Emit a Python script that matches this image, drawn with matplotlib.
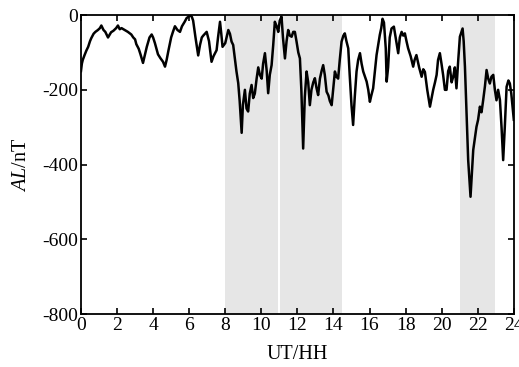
import matplotlib
matplotlib.use("Agg")
from matplotlib import pyplot as plt

plt.rcParams['font.family'] = ['Liberation Serif', 'DejaVu Serif']
plt.rcParams['mathtext.fontset'] = 'custom'
plt.rcParams['mathtext.it'] = 'Liberation Serif:italic'
plt.rcParams['mathtext.rm'] = 'Liberation Serif'
plt.rcParams['axes.unicode_minus'] = False

# AL index over one day (UT hours, nT)
ut = [0.0, 0.05, 0.1, 0.2, 0.3, 0.4, 0.5, 0.57, 0.7, 0.8, 0.94, 1.05, 1.13, 1.25, 1.35,
      1.5, 1.6, 1.67, 1.8, 1.95, 2.05, 2.15, 2.25, 2.42, 2.6, 2.79, 2.9, 3.0, 3.07, 3.2,
      3.3, 3.44, 3.55, 3.65, 3.8, 3.92, 4.0, 4.1, 4.27, 4.4, 4.55, 4.66, 4.75, 4.85, 5.0,
      5.1, 5.21, 5.35, 5.49, 5.6, 5.75, 5.86, 5.95, 6.04, 6.15, 6.22, 6.35, 6.5, 6.6, 6.7,
      6.78, 6.97, 7.1, 7.24, 7.35, 7.52, 7.6, 7.71, 7.78, 7.85, 8.0, 8.17, 8.26, 8.35, 8.44,
      8.54, 8.62, 8.72, 8.8, 8.91, 8.98, 9.09, 9.18, 9.27, 9.36, 9.46, 9.55, 9.64, 9.74, 9.83,
      9.92, 10.02, 10.1, 10.2, 10.3, 10.38, 10.47, 10.57, 10.66, 10.75, 10.85, 10.94, 11.02,
      11.12, 11.2, 11.31, 11.4, 11.49, 11.58, 11.68, 11.77, 11.86, 11.95, 12.05, 12.14, 12.22,
      12.32, 12.41, 12.51, 12.6, 12.69, 12.78, 12.88, 12.97, 13.06, 13.15, 13.25, 13.34, 13.43,
      13.52, 13.62, 13.72, 13.8, 13.9, 14.0, 14.08, 14.17, 14.26, 14.35, 14.45, 14.55, 14.63,
      14.72, 14.82, 14.9, 15.0, 15.09, 15.18, 15.28, 15.37, 15.47, 15.56, 15.65, 15.75, 15.84,
      15.93, 16.02, 16.1, 16.2, 16.3, 16.39, 16.48, 16.57, 16.65, 16.72, 16.8, 16.9, 16.95,
      17.03, 17.12, 17.22, 17.35, 17.45, 17.52, 17.59, 17.68, 17.78, 17.87, 17.96, 18.05, 18.14,
      18.28, 18.42, 18.5, 18.6, 18.75, 18.89, 18.98, 19.07, 19.2, 19.35, 19.45, 19.53, 19.63,
      19.72, 19.8, 19.9, 19.99, 20.08, 20.18, 20.27, 20.36, 20.45, 20.55, 20.64, 20.73, 20.82,
      20.92, 21.01, 21.1, 21.16, 21.22, 21.29, 21.38, 21.47, 21.55, 21.6, 21.68, 21.75, 21.84,
      21.93, 22.02, 22.12, 22.21, 22.3, 22.4, 22.49, 22.58, 22.67, 22.76, 22.86, 22.95, 23.04,
      23.13, 23.23, 23.32, 23.41, 23.5, 23.6, 23.7, 23.78, 23.86, 23.93, 24.0]
al = [-150, -130, -120, -107, -95, -85, -70, -62, -50, -45, -40, -35, -28, -40, -45,
      -60, -52, -46, -42, -35, -28, -38, -35, -40, -45, -52, -60, -65, -78, -90,
      -105, -128, -105, -85, -60, -52, -60, -75, -105, -115, -125, -138, -120, -95, -60,
      -45, -30, -40, -45, -30, -18, -8, -5, 0, -5, -15, -60, -108, -80, -60,
      -55, -45, -70, -125, -110, -94, -60, -18, -50, -85, -75, -40, -50, -71, -80,
      -120, -150, -182, -230, -315, -240, -200, -250, -258, -210, -187, -222, -210, -170, -140,
      -160, -170, -130, -102, -150, -209, -160, -134, -80, -18, -30, -45, -15,
      -4, -60, -116, -70, -40, -55, -58, -45, -45, -70, -100, -116, -200,
      -357, -220, -151, -180, -241, -200, -180, -169, -195, -214, -170, -150, -134,
      -160, -205, -215, -230, -241, -190, -151, -165, -170, -120, -71, -55, -49,
      -70, -89, -160, -241, -294, -220, -151, -120, -102, -130, -151, -165, -178,
      -200, -232, -215, -196, -150, -107, -80, -53, -35, -10, -20, -89, -178,
      -140, -60, -36, -31, -60, -80, -102, -60, -45, -55, -49, -70, -89,
      -110, -138, -120, -107, -140, -165, -145, -152, -200, -245, -220, -200, -180,
      -160, -120, -102, -130, -160, -200, -200, -150, -138, -180, -165, -140, -196,
      -120, -58, -45, -36, -70, -138, -260, -388, -450, -486, -420, -361, -330,
      -299, -280, -245, -260, -228, -190, -147, -170, -183, -165, -160, -200, -228,
      -200, -227, -300, -388, -300, -192, -175, -183, -210, -245, -280]

# shaded intervals (UT hours)
band_start = [8.0, 11.05, 21.0]
band_end = [10.92, 14.47, 22.97]

xticks = list(range(0, 25, 2))
yticks = [0, -200, -400, -600, -800]

fig = plt.figure(figsize=(5.19, 3.67), dpi=100)
ax = fig.add_axes([0.156, 0.144, 0.834, 0.815])

for s, e in zip(band_start, band_end):
    ax.axvspan(s, e, color='#e6e6e6', lw=0, zorder=0)

ax.plot(ut, al, color='black', lw=1.8, zorder=2)

ax.set_xlim(0, 24)
ax.set_ylim(-800, 0)
ax.set_xticks(xticks)
ax.set_yticks(yticks)
ax.tick_params(direction='in', length=4, width=1.2, top=True, right=True,
               labelsize=14, pad=2)
for sp in ax.spines.values():
    sp.set_linewidth(1.3)

ax.set_xlabel('UT/HH', fontsize=14.5, labelpad=8)
ax.set_ylabel(r'$AL$/nT', fontsize=14.5, labelpad=8)

fig.savefig('out.png', dpi=100)
